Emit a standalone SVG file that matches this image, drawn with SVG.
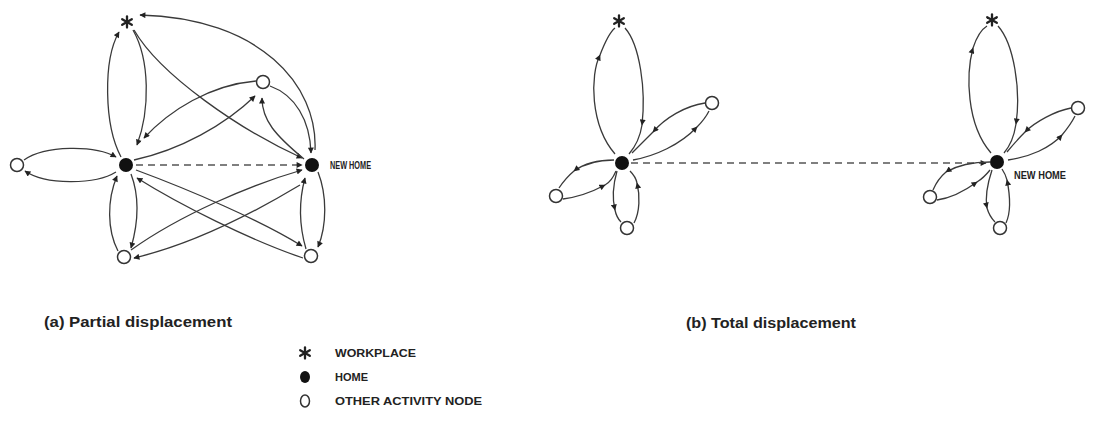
<svg xmlns="http://www.w3.org/2000/svg" width="1110" height="436" viewBox="0 0 1110 436">
<style>
.e{fill:none;stroke:#3a3a3a;stroke-width:1.3}
.ea{fill:none;stroke:#3a3a3a;stroke-width:1.3;marker-end:url(#ah)}
.em{fill:none;stroke:#3a3a3a;stroke-width:1.3;marker-mid:url(#ah)}
.d{fill:none;stroke:#555;stroke-width:1.3;stroke-dasharray:7 5}
.home{fill:#111}
.oth{fill:#fff;stroke:#333;stroke-width:1.5}
.star{stroke:#222;stroke-width:2.3;stroke-linecap:round}
.cap{font-family:"Liberation Sans",Arial,sans-serif;font-weight:bold;font-size:14px;fill:#222}
.lab{font-family:"Liberation Sans",Arial,sans-serif;font-weight:bold;font-size:10px;fill:#222}
</style>
<defs>
<marker id="ah" viewBox="0 0 10 10" refX="9" refY="5" markerWidth="7" markerHeight="6" markerUnits="userSpaceOnUse" orient="auto">
<path d="M0,0 L10,5 L0,10 z" fill="#222"/>
</marker>
<g id="st"><line x1="0" y1="-5.5" x2="0" y2="5.5"/><line x1="-4.8" y1="-2.8" x2="4.8" y2="2.8"/><line x1="-4.8" y1="2.8" x2="4.8" y2="-2.8"/></g>
</defs>

<g id="connectors">
<!-- panel a -->
<path class="ea" d="M 121,157 C 104,125 103,60 119,32"/>
<path class="ea" d="M 133,30 C 150,60 150,110 137,145"/>
<path class="ea" d="M 24,160 C 45,145 95,145 116,157"/>
<path class="ea" d="M 116,172 C 95,185 45,185 25,171"/>
<path class="ea" d="M 118,251 C 107,230 107,200 117,176"/>
<path class="ea" d="M 131,174 C 139,195 139,220 131,248"/>
<path class="ea" d="M 256,81 C 210,85 170,110 144,138"/>
<path class="ea" d="M 134,160 C 180,150 225,125 255,96"/>
<path class="ea" d="M 134,30 C 160,75 240,130 302,158"/>
<path class="ea" d="M 315,150 C 318,85 260,18 140,15"/>
<path class="ea" d="M 270,86 C 295,95 310,120 311,153"/>
<path class="ea" d="M 304,159 C 275,135 262,120 262,98"/>
<path class="d" d="M 136,165 L 302,165" marker-end="url(#ah)"/>
<path class="ea" d="M 136,170 C 190,190 260,220 302,246"/>
<path class="ea" d="M 303,258 C 250,240 180,205 137,178"/>
<path class="ea" d="M 131,250 C 180,215 250,185 302,170"/>
<path class="ea" d="M 300,185 C 250,215 190,245 134,258"/>
<path class="ea" d="M 306,249 C 299,225 299,200 305,178"/>
<path class="ea" d="M 318,172 C 327,195 327,225 318,247"/>

<!-- panel b left -->
<path class="em" d="M 615,154 C 590,125 590,75 600,55 C 605,42 610,32 615,28"/>
<path class="em" d="M 625,28 C 640,45 646,90 642,125 C 640,138 635,147 629,154"/>
<path class="em" d="M 705,103 C 685,106 665,118 653,132 C 645,140 638,147 632,153"/>
<path class="em" d="M 633,160 C 655,156 680,145 697,127 C 702,122 706,117 709,111"/>
<path class="em" d="M 614,160 C 600,160 585,163 574,171 C 568,176 563,182 559,188"/>
<path class="em" d="M 563,199 C 578,197 592,192 605,185 C 609,183 613,178 616,171"/>
<path class="em" d="M 617,171 C 613,185 612,198 615,210 C 616,215 618,219 621,222"/>
<path class="em" d="M 634,223 C 640,212 640,195 637,183 C 636,178 633,174 630,171"/>
<path class="d" d="M 631,163 L 986,163" marker-end="url(#ah)"/>

<!-- panel b right -->
<path class="em" d="M 991,153 C 966,124 966,74 973,48 C 977,36 982,29 987,26"/>
<path class="em" d="M 998,26 C 1014,44 1021,90 1016,124 C 1014,137 1010,146 1004,153"/>
<path class="em" d="M 1071,108 C 1055,111 1035,122 1025,132 C 1018,139 1012,146 1007,152"/>
<path class="em" d="M 1008,160 C 1030,157 1050,148 1062,135 C 1067,129 1072,122 1075,116"/>
<path class="em" d="M 990,162 C 975,162 958,165 946,172 C 940,177 936,183 933,190"/>
<path class="em" d="M 937,200 C 952,198 966,190 977,182 C 982,179 986,175 990,170"/>
<path class="em" d="M 992,170 C 987,185 985,197 987,208 C 989,215 992,219 995,222"/>
<path class="em" d="M 1006,223 C 1011,212 1010,195 1007,180 C 1006,176 1004,172 1002,169"/>
</g>

<!-- panel a nodes -->
<g id="a-workplace" class="star"><use href="#st" x="127" y="22"/></g>
<g id="a-home"><circle class="home" cx="126" cy="165" r="7"/></g>
<g id="a-left"><circle class="oth" cx="17" cy="165" r="6.5"/></g>
<g id="a-bottomleft"><circle class="oth" cx="124" cy="257" r="6.5"/></g>
<g id="a-upperright"><circle class="oth" cx="263" cy="82" r="6.5"/></g>
<g id="a-newhome"><circle class="home" cx="312" cy="165" r="7"/><text class="lab" x="330" y="169" textLength="41" lengthAdjust="spacingAndGlyphs">NEW HOME</text></g>
<g id="a-bottomright"><circle class="oth" cx="311" cy="256" r="6.5"/></g>

<!-- panel b left nodes -->
<g id="b-workplace1" class="star"><use href="#st" x="619" y="21"/></g>
<g id="b-home"><circle class="home" cx="622" cy="163" r="7"/></g>
<g id="b-ur1"><circle class="oth" cx="712" cy="103" r="6.5"/></g>
<g id="b-ll1"><circle class="oth" cx="556" cy="196" r="6.5"/></g>
<g id="b-bot1"><circle class="oth" cx="627" cy="228" r="6.5"/></g>

<!-- panel b right nodes -->
<g id="b-workplace2" class="star"><use href="#st" x="992" y="20"/></g>
<g id="b-newhome"><circle class="home" cx="997" cy="162" r="7"/><text class="lab" x="1014" y="179" textLength="52" lengthAdjust="spacingAndGlyphs">NEW HOME</text></g>
<g id="b-ur2"><circle class="oth" cx="1078" cy="108" r="6.5"/></g>
<g id="b-ll2"><circle class="oth" cx="930" cy="197" r="6.5"/></g>
<g id="b-bot2"><circle class="oth" cx="1000" cy="228" r="6.5"/></g>

<!-- captions -->
<g id="captions">
<text class="cap" x="44" y="327" textLength="188" lengthAdjust="spacingAndGlyphs">(a) Partial displacement</text>
<text class="cap" x="686" y="328" textLength="170" lengthAdjust="spacingAndGlyphs">(b) Total displacement</text>
</g>

<!-- legend -->
<g id="legend">
<g class="star"><use href="#st" x="305" y="353"/></g>
<text class="lab" x="335" y="357" textLength="81" lengthAdjust="spacingAndGlyphs">WORKPLACE</text>
<ellipse class="home" cx="305" cy="377" rx="5" ry="6"/>
<text class="lab" x="335" y="381" textLength="33" lengthAdjust="spacingAndGlyphs">HOME</text>
<ellipse class="oth" cx="305" cy="401" rx="4.5" ry="6"/>
<text class="lab" x="335" y="405" textLength="147" lengthAdjust="spacingAndGlyphs">OTHER ACTIVITY NODE</text>
</g>
</svg>
